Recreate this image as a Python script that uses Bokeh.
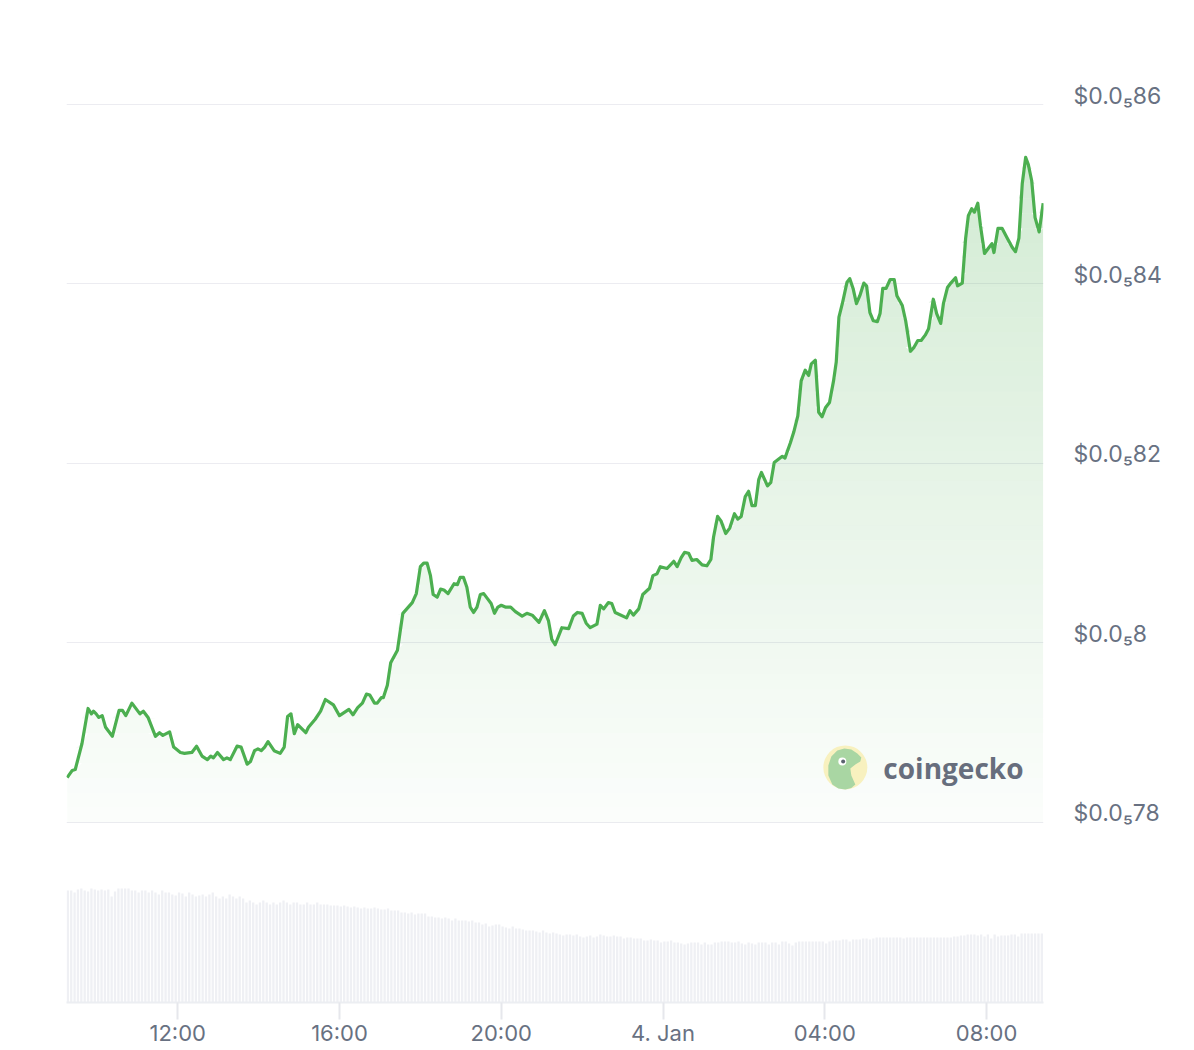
import numpy as np
import pandas as pd
from bokeh.plotting import figure
from bokeh.models import Range1d, FixedTicker, LinearAxis
from bokeh.core.properties import value
from bokeh.embed import file_html
from bokeh.resources import INLINE

# ---------------- data ----------------
START = pd.Timestamp("2025-01-03 09:15")

# minutes since START
minutes = [1, 8.5, 13, 23, 32, 37, 40, 44, 48, 53, 58, 68, 78, 83, 88, 97, 109, 114, 121, 132,
           138, 143, 153, 159, 169, 175, 186, 193, 201, 209, 214, 218, 224, 233, 238, 243, 253, 259, 268, 273,
           279, 284, 289, 294, 299, 308, 317, 323, 328, 333, 338, 343, 355, 359, 369, 377, 384, 396, 405, 419,
           425, 432, 439, 445, 450, 457, 461, 467, 470, 476, 481, 491, 499, 513, 519, 525, 530, 535, 540, 544,
           550, 555, 560, 566, 575, 580, 584, 589, 594, 599, 604, 609, 614, 619, 624, 630, 635, 640, 645, 651,
           659, 666, 676, 683, 691, 701, 709, 715, 720, 725, 735, 745, 752, 758, 765, 771, 777, 787, 792, 797,
           804, 809, 814, 831, 836, 841, 849, 855, 865, 870, 876, 881, 891, 901, 906, 912, 917, 923, 928, 935,
           943, 950, 956, 960, 966, 971, 978, 984, 991, 996, 1001, 1007, 1012, 1017, 1022, 1027, 1031, 1040, 1045, 1050,
           1062, 1066, 1074, 1079, 1085, 1090, 1096, 1101, 1105, 1111, 1116, 1121, 1126, 1132, 1138, 1142, 1146, 1151, 1158, 1162,
           1167, 1172, 1177, 1183, 1187, 1192, 1197, 1203, 1207, 1211, 1216, 1222, 1228, 1232, 1240, 1245, 1252, 1257, 1263, 1268,
           1274, 1279, 1286, 1291, 1297, 1301, 1307, 1312, 1319, 1322, 1329, 1334, 1338, 1343, 1347, 1352, 1356, 1362, 1368, 1373,
           1376, 1382, 1388, 1395, 1403, 1408, 1413, 1418, 1423, 1427, 1432, 1437, 1443, 1449]

# price in units of 1e-7 USD (86 -> $0.0000086)
price_e7 = [78.50, 78.58, 78.59, 78.88, 79.27, 79.21, 79.24, 79.21, 79.17, 79.19, 79.06, 78.96, 79.25, 79.25, 79.19, 79.33, 79.21, 79.24, 79.17, 78.96,
            79.00, 78.97, 79.01, 78.84, 78.78, 78.77, 78.78, 78.85, 78.74, 78.70, 78.74, 78.72, 78.78, 78.70, 78.72, 78.70, 78.85, 78.84, 78.65, 78.68,
            78.80, 78.82, 78.80, 78.84, 78.90, 78.80, 78.77, 78.84, 79.18, 79.21, 78.99, 79.09, 79.00, 79.06, 79.15, 79.24, 79.37, 79.31, 79.19, 79.26,
            79.20, 79.28, 79.33, 79.43, 79.42, 79.33, 79.33, 79.39, 79.39, 79.53, 79.78, 79.92, 80.33, 80.45, 80.55, 80.85, 80.89, 80.89, 80.75, 80.54,
            80.51, 80.60, 80.59, 80.55, 80.66, 80.65, 80.73, 80.73, 80.62, 80.40, 80.34, 80.40, 80.54, 80.55, 80.50, 80.44, 80.33, 80.40, 80.42, 80.40,
            80.40, 80.35, 80.30, 80.33, 80.31, 80.23, 80.36, 80.25, 80.04, 79.98, 80.17, 80.16, 80.30, 80.34, 80.33, 80.22, 80.17, 80.21, 80.42, 80.38,
            80.45, 80.44, 80.34, 80.28, 80.36, 80.31, 80.38, 80.54, 80.61, 80.75, 80.77, 80.85, 80.83, 80.91, 80.85, 80.95, 81.01, 81.00, 80.92, 80.93,
            80.87, 80.86, 80.93, 81.18, 81.41, 81.36, 81.22, 81.28, 81.44, 81.38, 81.41, 81.63, 81.69, 81.53, 81.53, 81.82, 81.90, 81.75, 81.79, 82.01,
            82.08, 82.06, 82.23, 82.35, 82.53, 82.92, 83.04, 82.98, 83.11, 83.15, 82.57, 82.52, 82.62, 82.68, 82.92, 83.13, 83.63, 83.78, 84.02, 84.06,
            83.95, 83.78, 83.87, 84.01, 83.98, 83.68, 83.59, 83.58, 83.67, 83.95, 83.95, 84.05, 84.05, 83.87, 83.76, 83.59, 83.25, 83.29, 83.37, 83.37,
            83.43, 83.50, 83.83, 83.67, 83.56, 83.78, 83.96, 84.01, 84.07, 83.98, 84.01, 84.51, 84.76, 84.84, 84.80, 84.90, 84.65, 84.34, 84.40, 84.45,
            84.35, 84.62, 84.62, 84.52, 84.41, 84.36, 84.51, 85.12, 85.41, 85.33, 85.15, 84.74, 84.58, 84.90]

# 5-minute volume bars (relative units)
volume = [
    112, 112, 110, 113, 114, 112, 111, 114, 113, 112, 113, 112, 113, 106, 111, 114, 114, 114, 114, 112, 112, 110, 112, 112,
    110, 112, 110, 108, 112, 110, 110, 108, 107, 110, 109, 106, 110, 108, 106, 107, 108, 106, 108, 110, 106, 104, 106, 104,
    108, 106, 104, 106, 104, 100, 102, 100, 98, 100, 102, 100, 98, 100, 98, 100, 102, 100, 98, 100, 100, 98, 98, 100,
    98, 98, 100, 98, 98, 98, 97, 97, 97, 96, 97, 96, 95, 96, 95, 94, 95, 94, 94, 95, 94, 93, 93, 94,
    92, 92, 92, 90, 90, 89, 90, 88, 89, 89, 89, 86, 86, 85, 85, 84, 85, 84, 82, 84, 82, 82, 82, 81,
    82, 80, 80, 78, 79, 76, 77, 78, 78, 76, 75, 74, 76, 74, 74, 73, 72, 72, 72, 71, 70, 72, 70, 69,
    70, 69, 68, 67, 68, 68, 67, 68, 66, 65, 66, 67, 65, 66, 68, 67, 66, 66, 67, 66, 66, 64, 65, 65,
    64, 64, 64, 62, 62, 63, 62, 62, 60, 61, 61, 62, 60, 60, 59, 58, 59, 60, 60, 60, 58, 60, 58, 58,
    60, 60, 61, 61, 61, 60, 60, 61, 59, 58, 60, 59, 58, 60, 60, 60, 58, 60, 60, 58, 61, 61, 59, 57,
    60, 61, 61, 61, 61, 61, 61, 61, 61, 59, 61, 62, 62, 62, 63, 63, 61, 63, 63, 63, 64, 64, 63, 64,
    65, 65, 65, 65, 65, 65, 65, 65, 64, 65, 65, 65, 65, 65, 65, 65, 65, 65, 65, 65, 65, 65, 65, 66,
    66, 67, 67, 68, 68, 68, 67, 68, 66, 68, 64, 68, 66, 67, 67, 67, 68, 68, 66, 69, 69, 69, 69, 69,
    69, 69,
]

price_ticks = [78, 80, 82, 84, 86]
price_tick_labels = ["$0.0\u208578", "$0.0\u20858", "$0.0\u208582", "$0.0\u208584", "$0.0\u208586"]

time_ticks = ["2025-01-03 12:00", "2025-01-03 16:00", "2025-01-03 20:00",
              "2025-01-04 00:00", "2025-01-04 04:00", "2025-01-04 08:00"]
time_tick_labels = ["12:00", "16:00", "20:00", "4. Jan", "04:00", "08:00"]

# ---------------- derived ----------------
t = START + pd.to_timedelta(np.array(minutes, dtype=float), unit="m")
price = np.array(price_e7)
vol_t = START + pd.to_timedelta(np.arange(len(volume)) * 5 + 2, unit="m")

LINE = "#4caf50"
LABEL = "#687182"
Y0, Y1 = 75.994, 86.958
LABEL_SHIFT = 0.1  # lift the price labels slightly above their grid lines

p = figure(width=1186, height=1048, output_backend="svg", toolbar_location=None,
           x_axis_type="datetime", y_axis_location=None,
           x_range=Range1d(START, START + pd.Timedelta(minutes=1449.5)),
           y_range=Range1d(Y0, Y1),
           min_border_left=66, min_border_right=143, min_border_top=18, min_border_bottom=46)
p.outline_line_color = None
p.background_fill_color = "white"
p.border_fill_color = "white"
p.xgrid.visible = False
p.ygrid.ticker = FixedTicker(ticks=price_ticks)
p.ygrid.grid_line_color = "#ececf1"
p.ygrid.grid_line_width = 1

p.extra_y_ranges = {"vol": Range1d(0, 984),
                    "lab": Range1d(Y0 - LABEL_SHIFT, Y1 - LABEL_SHIFT)}

# volume bars
p.vbar(x=vol_t, top=volume, bottom=0, width=pd.Timedelta(minutes=3.4).total_seconds() * 1000,
       y_range_name="vol", fill_color="#eff0f4", line_color=None)

# gradient area under price line (stacked translucent bands)
levels = np.linspace(78, 85.45, 46)
for i in range(len(levels) - 1):
    lo, hi = levels[i], levels[i + 1]
    frac = (0.5 * (lo + hi) - 78) / (85.45 - 78)
    alpha = 0.02 + 0.23 * frac
    y2 = np.clip(price, lo, hi)
    p.varea(x=t, y1=np.full(len(price), lo), y2=y2, fill_color=LINE, fill_alpha=alpha)

# watermark (coingecko)
MIN_PER_PX = 1.4833
P_PER_PX = 1 / 89.75
wm_x = START + pd.Timedelta(minutes=1155.5)
wm_y = 78.613
p.scatter(x=[wm_x], y=[wm_y], size=44, marker="circle", fill_color="#f8f1bf", line_color=None)
gx = [-13, -17, -17, -14, -8, -1, 6, 12, 16, 15, 10, 5, 6, 10, 6, 0, -7]
gy = [17, 8, -2, -11, -17, -19, -18, -14, -10, -6, -3, 1, 8, 17, 20.5, 22, 21]
p.patch(x=[wm_x + pd.Timedelta(minutes=d * MIN_PER_PX) for d in gx],
        y=[wm_y - d * P_PER_PX for d in gy], fill_color="#a9d6a3", line_color=None)
eye_x = wm_x + pd.Timedelta(minutes=-3 * MIN_PER_PX)
eye_y = wm_y + 6 * P_PER_PX
p.scatter(x=[eye_x], y=[eye_y], size=8, marker="circle", fill_color="white", line_color=None)
p.scatter(x=[eye_x + pd.Timedelta(minutes=0.8 * MIN_PER_PX)], y=[eye_y], size=4, marker="circle",
          fill_color="#5b6270", line_color=None)
p.text(x=[START + pd.Timedelta(minutes=1211.9)], y=[78.541 + 6 * P_PER_PX], text=["coingecko"],
       text_font=value("Open Sans"), text_font_style="bold", text_font_size="28px",
       text_color="#676e7d", text_baseline="alphabetic", text_align="left")

# price line
p.line(x=t, y=price, line_color=LINE, line_width=3.2, line_join="round")

# price axis (right)
yax = LinearAxis(y_range_name="lab", ticker=FixedTicker(ticks=price_ticks))
yax.major_label_overrides = {k: v for k, v in zip(price_ticks, price_tick_labels)}
yax.axis_line_color = None
yax.major_tick_line_color = None
yax.minor_tick_line_color = None
yax.major_label_standoff = 24
yax.major_label_text_font = "Inter"
yax.major_label_text_font_size = "23px"
yax.major_label_text_color = LABEL
p.add_layout(yax, "right")

# time axis (bottom)
tick_ms = [int(pd.Timestamp(s).value // 10**6) for s in time_ticks]
p.xaxis.ticker = FixedTicker(ticks=tick_ms)
p.xaxis.major_label_overrides = {k: v for k, v in zip(tick_ms, time_tick_labels)}
p.xaxis.axis_line_color = "#eceef2"
p.xaxis.axis_line_width = 2
p.xaxis.major_tick_line_color = "#e6e7ec"
p.xaxis.major_tick_line_width = 2
p.xaxis.major_tick_out = 17
p.xaxis.major_tick_in = 0
p.xaxis.minor_tick_line_color = None
p.xaxis.major_label_standoff = 0
p.xaxis.major_label_text_font = "Inter"
p.xaxis.major_label_text_font_size = "22px"
p.xaxis.major_label_text_color = LABEL

open("out.html", "w").write(file_html(p, INLINE))
